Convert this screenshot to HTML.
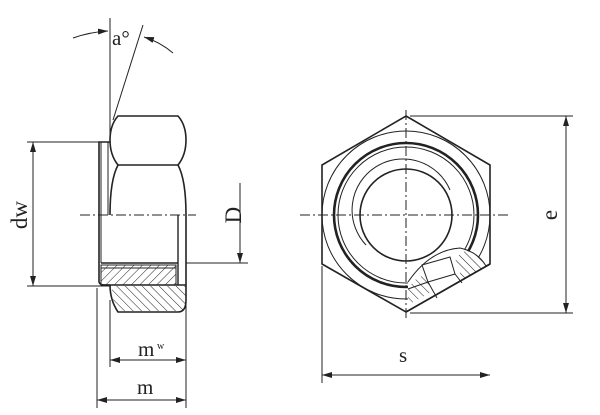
<!DOCTYPE html>
<html><head><meta charset="utf-8"><style>
html,body{margin:0;padding:0;background:#fff;width:600px;height:415px;overflow:hidden}
svg{display:block}
text{font-family:"Liberation Serif",serif;fill:#222}
</style></head><body>
<svg width="600" height="415" viewBox="0 0 600 415" xmlns="http://www.w3.org/2000/svg">
<defs>
<pattern id="h1" width="6" height="6" patternUnits="userSpaceOnUse" patternTransform="rotate(45)"><line x1="0" y1="0" x2="0" y2="6" stroke="#222" stroke-width="1"/></pattern>
<pattern id="h2" width="6" height="6" patternUnits="userSpaceOnUse" patternTransform="rotate(-45)"><line x1="0" y1="0" x2="0" y2="6" stroke="#222" stroke-width="1"/></pattern>
<marker id="ar" markerWidth="10" markerHeight="6" refX="10" refY="3" orient="auto-start-reverse" markerUnits="userSpaceOnUse"><path d="M0,0 L10,3 L0,6 z" fill="#222"/></marker>
</defs>
<g stroke="#222" fill="none" stroke-width="1">
<!-- LEFT VIEW -->
<line x1="110" y1="18" x2="110" y2="142"/>
<line x1="143" y1="25" x2="113" y2="120"/>
<path d="M73,38 Q90,32 108,31" marker-end="url(#ar)"/>
<path d="M173,53 Q160,42 144,37" marker-end="url(#ar)"/>
<path d="M118,116 L178,116 Q186,125 186,140 Q186,155 178,165 L118,165 Q110,155 110,140 Q110,125 118,116 Z" stroke-width="1.6"/>
<path d="M118,165 Q110,180 110,215" stroke-width="1.6"/>
<path d="M178,165 Q186,180 186,215 L186,300 Q186,312 178,312 L118,312 Q110,300 110,285" stroke-width="1.6"/>
<path d="M110,142 L99,142 L99,282 Q100,285 104,285 L110,285" stroke-width="1.6"/>
<line x1="101" y1="142" x2="101" y2="263"/>
<line x1="108" y1="142" x2="108" y2="215"/>
<line x1="80" y1="215" x2="196" y2="215" stroke-dasharray="10,3,2,3"/>
<line x1="178" y1="215" x2="178" y2="285" stroke-width="1.4"/>
<rect x="101" y="265" width="75" height="20" fill="url(#h1)"/>
<line x1="101" y1="263" x2="178" y2="263" stroke-width="1.4"/>
<line x1="101" y1="268" x2="176" y2="268"/>
<line x1="101" y1="285" x2="186" y2="285" stroke-width="1.4"/>
<path d="M112,286 L186,286 L186,300 Q186,311 178,311 L118,311 Q111,300 112,286Z" fill="url(#h2)" stroke="none"/>
<line x1="186" y1="263" x2="248" y2="263"/>
<!-- dw -->
<line x1="27" y1="142" x2="110" y2="142"/>
<line x1="27" y1="286" x2="110" y2="286"/>
<line x1="33" y1="142" x2="33" y2="286" marker-start="url(#ar)" marker-end="url(#ar)"/>
<!-- D -->
<line x1="240" y1="183" x2="240" y2="263" marker-end="url(#ar)"/>
<!-- mw, m -->
<line x1="110" y1="300" x2="110" y2="367"/>
<line x1="186" y1="300" x2="186" y2="408"/>
<line x1="97" y1="288" x2="97" y2="408"/>
<line x1="110" y1="360" x2="186" y2="360" marker-start="url(#ar)" marker-end="url(#ar)"/>
<line x1="97" y1="400" x2="186" y2="400" marker-start="url(#ar)" marker-end="url(#ar)"/>
<!-- RIGHT VIEW -->
<polygon points="406,116 490,165 490,264 406,312 322,264 322,165" stroke-width="1.6"/>
<circle cx="406" cy="215" r="84"/>
<circle cx="406" cy="215" r="72" stroke-width="2.6"/>
<circle cx="406" cy="215" r="68"/>
<circle cx="406" cy="215" r="46" stroke-width="1.6"/>
<path d="M366,245 A51,51 0 1 1 450,190"/>
<line x1="300" y1="215" x2="508" y2="215" stroke-dasharray="10,3,2,3"/>
<line x1="406" y1="110" x2="406" y2="320" stroke-dasharray="10,3,2,3"/>
<path d="M408,282 Q430,250 460,248 Q480,255 486,266 L408,311 Z" fill="#fff" stroke="none"/>
<path d="M408,290 L408,305 L433,291 L425,275 Q413,278 408,290 Z" fill="url(#h2)" stroke="none"/>
<path d="M455,258 L462,279 L486,266 Q478,252 465,251 Z" fill="url(#h2)" stroke="none"/>
<path d="M408,282 Q430,250 460,248 Q478,252 486,266" />
<path d="M422,265 L450,257 L455,274 L428,282 Z" />
<line x1="428" y1="282" x2="437" y2="298"/>
<line x1="455" y1="274" x2="462" y2="283"/>
<line x1="408" y1="289" x2="428" y2="282"/>
<line x1="406" y1="312" x2="490" y2="264" stroke-width="1.6"/>
<!-- e -->
<line x1="410" y1="116" x2="573" y2="116"/>
<line x1="410" y1="313" x2="573" y2="313"/>
<line x1="566" y1="116" x2="566" y2="313" marker-start="url(#ar)" marker-end="url(#ar)"/>
<!-- s -->
<line x1="322" y1="266" x2="322" y2="383"/>
<line x1="322" y1="375" x2="490" y2="375" marker-start="url(#ar)" marker-end="url(#ar)"/>
</g>
<text x="112" y="45" font-size="21">a°</text>
<text x="138" y="356" font-size="21">m</text><text x="157" y="349" font-size="10">w</text>
<text x="137" y="394" font-size="21">m</text>
<text x="399" y="362" font-size="21">s</text>
<text transform="translate(27,215) rotate(-90)" font-size="23" text-anchor="middle">dw</text>
<text transform="translate(241,215) rotate(-90)" font-size="23" text-anchor="middle">D</text>
<text transform="translate(557,215) rotate(-90)" font-size="23" text-anchor="middle">e</text>
</svg>
</body></html>
